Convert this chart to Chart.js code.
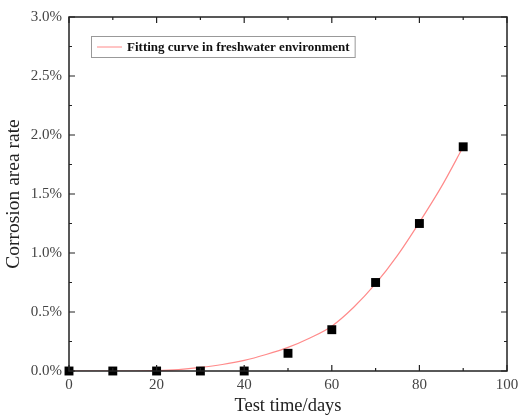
<!DOCTYPE html>
<html>
<head>
<meta charset="utf-8">
<script src="https://cdn.jsdelivr.net/npm/chart.js@4/dist/chart.umd.min.js"></script>
<style>
  html, body { margin: 0; padding: 0; background: #fff; }
  #wrap { width: 519px; height: 419px; }
</style>
</head>
<body>
<div id="wrap"><canvas id="chart1" width="519" height="419"></canvas></div>
<script>
// measured samples (days, % area corroded)
const testDays = [0, 10, 20, 30, 40, 50, 60, 70, 80, 90];
const corrosionRate = [0, 0, 0, 0, 0, 0.15, 0.35, 0.75, 1.25, 1.9];

// fitted curve read along its length
const fitDays = [0, 10, 15, 20, 25, 30, 35, 40, 45, 50, 55, 60, 65, 70, 75, 80, 85, 90];
const fitRate = [0, 0, 0, 0.003, 0.012, 0.03, 0.055, 0.09, 0.14, 0.2, 0.28, 0.38, 0.54, 0.74, 0.98, 1.26, 1.56, 1.9];

const xTicks = [0, 20, 40, 60, 80, 100];
const yTicks = [0, 0.5, 1.0, 1.5, 2.0, 2.5, 3.0];
const fitLabel = 'Fitting curve in freshwater environment';

const serif = '"Liberation Serif", "Times New Roman", serif';
const fitColor = '#ff8a8a';

// frame with inward ticks on all four sides (Origin style)
const framePlugin = {
    id: 'frame',
    afterDatasetsDraw(chart) {
        const ctx = chart.ctx;
        const a = chart.chartArea;
        const xs = chart.scales.x;
        const ys = chart.scales.y;
        ctx.save();
        ctx.strokeStyle = '#222';
        ctx.lineWidth = 1.5;
        ctx.strokeRect(a.left, a.top, a.right - a.left, a.bottom - a.top);
        ctx.lineWidth = 1.2;
        ctx.beginPath();
        for (let v = 0; v <= 100; v += 10) {
            const px = xs.getPixelForValue(v);
            const len = v % 20 === 0 ? 6 : 3;
            ctx.moveTo(px, a.bottom); ctx.lineTo(px, a.bottom - len);
            ctx.moveTo(px, a.top); ctx.lineTo(px, a.top + len);
        }
        for (let v = 0; v <= 3.0001; v += 0.25) {
            const py = ys.getPixelForValue(v);
            const len = Math.abs(v * 2 - Math.round(v * 2)) < 0.01 ? 6 : 3;
            ctx.moveTo(a.left, py); ctx.lineTo(a.left + len, py);
            ctx.moveTo(a.right, py); ctx.lineTo(a.right - len, py);
        }
        ctx.stroke();
        ctx.restore();
    },
    afterDraw(chart) {
        // legend box inside the plot area
        const ctx = chart.ctx;
        const a = chart.chartArea;
        const bx = a.left + 22, by = a.top + 19;
        ctx.save();
        ctx.font = 'bold 13px ' + serif;
        const tw = ctx.measureText(fitLabel).width;
        const bw = tw + 41, bh = 21;
        ctx.fillStyle = '#fff';
        ctx.fillRect(bx, by, bw, bh);
        ctx.strokeStyle = '#999';
        ctx.lineWidth = 1;
        ctx.strokeRect(bx + 0.5, by + 0.5, bw, bh);
        ctx.strokeStyle = fitColor;
        ctx.beginPath();
        ctx.moveTo(bx + 6, by + bh / 2 + 0.5);
        ctx.lineTo(bx + 31, by + bh / 2 + 0.5);
        ctx.stroke();
        ctx.fillStyle = '#111';
        ctx.textBaseline = 'middle';
        ctx.fillText(fitLabel, bx + 36, by + bh / 2 + 1);
        ctx.restore();
    }
};

const ctx1 = document.getElementById('chart1').getContext('2d');

new Chart(ctx1, {
    type: 'scatter',
    data: {
        datasets: [
            {
                label: 'Measured',
                data: testDays.map((d, i) => ({ x: d, y: corrosionRate[i] })),
                pointStyle: 'rect',
                pointRadius: 6.3,
                backgroundColor: '#000',
                borderColor: '#000',
                borderWidth: 0,
                clip: false,
                order: 0
            },
            {
                label: fitLabel,
                type: 'line',
                data: fitDays.map((d, i) => ({ x: d, y: fitRate[i] })),
                borderColor: fitColor,
                borderWidth: 1.2,
                pointRadius: 0,
                fill: false,
                cubicInterpolationMode: 'monotone',
                order: 1
            }
        ]
    },
    options: {
        responsive: false,
        animation: false,
        layout: { padding: { top: 17, right: 12, left: 0, bottom: 0 } },
        plugins: {
            legend: { display: false },
            tooltip: { enabled: false }
        },
        scales: {
            x: {
                type: 'linear',
                min: 0,
                max: 100,
                afterBuildTicks: (s) => { s.ticks = xTicks.map(v => ({ value: v })); },
                afterFit: (s) => {
                    s.height = 48;
                    // let the "100" label hang over the right padding
                    s.paddingLeft = 0;
                    s.paddingRight = 0;
                },
                grid: { display: false, drawTicks: false },
                border: { display: false },
                ticks: {
                    padding: 5,
                    color: '#444',
                    font: { family: serif, size: 15 }
                },
                title: {
                    display: true,
                    text: 'Test time/days',
                    color: '#222',
                    padding: { top: 0, bottom: 2 },
                    font: { family: serif, size: 18.5 }
                }
            },
            y: {
                type: 'linear',
                min: 0,
                max: 3,
                afterBuildTicks: (s) => { s.ticks = yTicks.map(v => ({ value: v })); },
                afterFit: (s) => {
                    s.width = 69;
                    s.paddingTop = 0;
                    s.paddingBottom = 0;
                },
                grid: { display: false, drawTicks: false },
                border: { display: false },
                ticks: {
                    padding: 7,
                    color: '#444',
                    font: { family: serif, size: 15 },
                    callback: (v) => v.toFixed(1) + '%'
                },
                title: {
                    display: true,
                    text: 'Corrosion area rate',
                    color: '#222',
                    padding: { top: 2, bottom: 0 },
                    font: { family: serif, size: 19.5 }
                }
            }
        }
    },
    plugins: [framePlugin]
});
</script>
</body>
</html>
